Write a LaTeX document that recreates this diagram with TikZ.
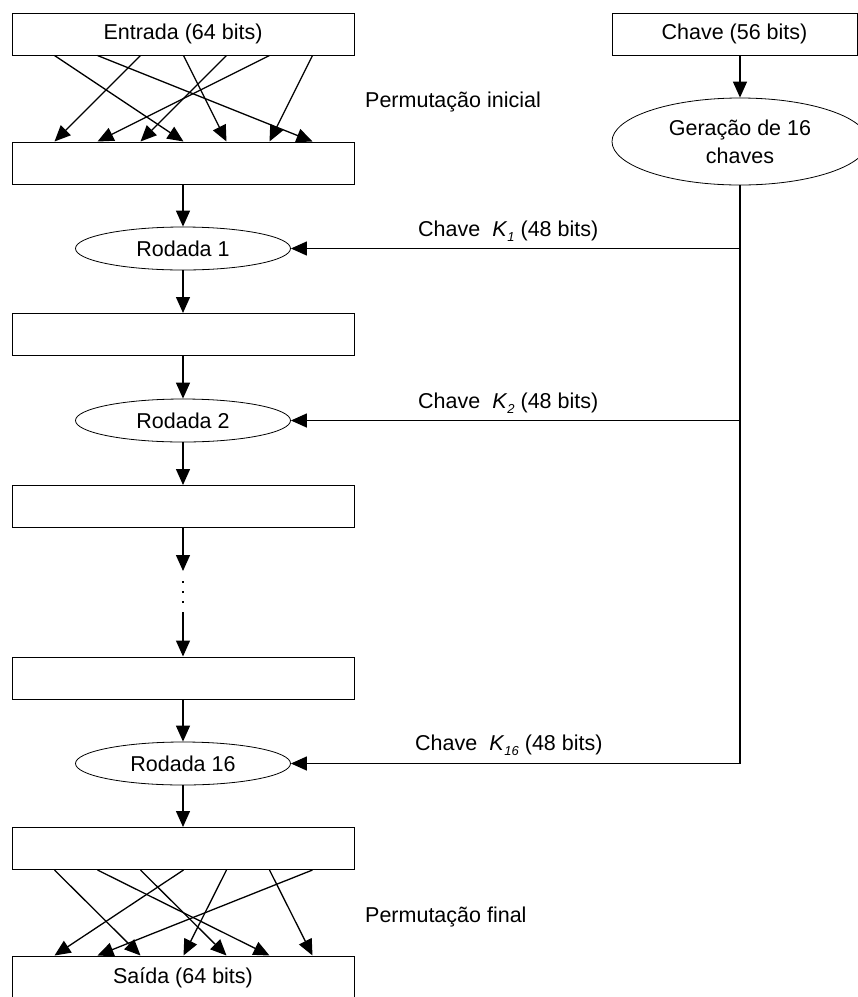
\documentclass[tikz,border=0pt]{standalone}
\usepackage{fontspec}
\setmainfont{Liberation Sans}
\usetikzlibrary{arrows.meta,shapes.geometric}
\newcommand{\keysub}[1]{\raisebox{-0.45ex}{\fontsize{13}{13}\selectfont\itshape #1}}
\begin{document}
\begin{tikzpicture}[x=1pt,y=-1pt,
  font=\fontsize{21.5}{28}\selectfont,
  box/.style={draw,line width=1pt,minimum width=342pt,minimum height=42pt,inner sep=0pt},
  round/.style={draw,ellipse,line width=0.8pt,minimum width=215pt,minimum height=43pt,inner sep=0pt},
  arr/.style={line width=1.3pt,-{Triangle[length=16pt,width=14pt]}},
  lbl/.style={anchor=base west,inner sep=0pt}]
\useasboundingbox (0,0) rectangle (858,997);

% data path
\node[box]   (in)  at (183,34)    {Entrada (64 bits)};
\node[box]   (b1)  at (183,163)   {};
\node[round] (r1)  at (183,248.5) {Rodada 1};
\node[box]   (b2)  at (183,334.5) {};
\node[round] (r2)  at (183,420.5) {Rodada 2};
\node[box]   (b3)  at (183,506.5) {};
\node[box]   (b4)  at (183,678)   {};
\node[round] (r16) at (183,763.5) {Rodada 16};
\node[box]   (b5)  at (183,848.5) {};
\node[box,minimum height=44pt] (out) at (183,978) {Saída (64 bits)};

% key path
\node[box,minimum width=245pt] (key) at (734.5,34) {Chave (56 bits)};
\node[round,minimum width=256pt,minimum height=87pt,align=center] (gen) at (740,141.5)
  {Geração de 16\\chaves};

% vertical flow
\draw[arr] (b1) -- (r1);
\draw[arr] (r1) -- (b2);
\draw[arr] (b2) -- (r2);
\draw[arr] (r2) -- (b3);
\coordinate (gapA) at (183,571);
\coordinate (dotA) at (183,581);
\coordinate (dotB) at (183,603);
\coordinate (gapB) at (183,612);
\draw[arr] (b3) -- (gapA);
\draw[line width=1.8pt,dash pattern=on 2pt off 8pt] (dotA) -- (dotB);
\draw[arr] (gapB) -- (b4);
\draw[arr] (b4) -- (r16);
\draw[arr] (r16) -- (b5);

% round keys
\draw[arr] (key.south -| gen.north) -- (gen.north);
\coordinate (kEnd) at (740,763.5);
\draw[line width=1.3pt] (gen.south) -- (kEnd);
\coordinate (k1) at (740,248.5);
\coordinate (k2) at (740,420.5);
\draw[arr] (k1) -- (r1);
\draw[arr] (k2) -- (r2);
\draw[arr] (kEnd) -- (r16);
\node[lbl] (l1)  at (418,236) {Chave \ \textit{K}\keysub{1} (48 bits)};
\node[lbl] (l2)  at (418,408) {Chave \ \textit{K}\keysub{2} (48 bits)};
\node[lbl] (l16) at (415,750) {Chave \ \textit{K}\keysub{16} (48 bits)};

% permutation wiring
\foreach \i in {1,...,7}{
  \coordinate (ia\i) at ([xshift=43*\i]in.south west);
  \coordinate (ib\i) at ([xshift=43*\i]b1.north west);
  \coordinate (fa\i) at ([xshift=43*\i]b5.south west);
  \coordinate (fb\i) at ([xshift=43*\i]out.north west);
}
\foreach \s/\t in {1/4,2/7,3/1,4/5,5/3,6/2,7/6}
  \draw[arr] (ia\s) -- (ib\t);
\foreach \s/\t in {1/3,2/6,3/5,4/1,5/4,6/7,7/2}
  \draw[arr] (fa\s) -- (fb\t);
\node[lbl] (pi) at (365,107) {Permutação inicial};
\node[lbl] (pf) at (365,922) {Permutação final};
\end{tikzpicture}
\end{document}
